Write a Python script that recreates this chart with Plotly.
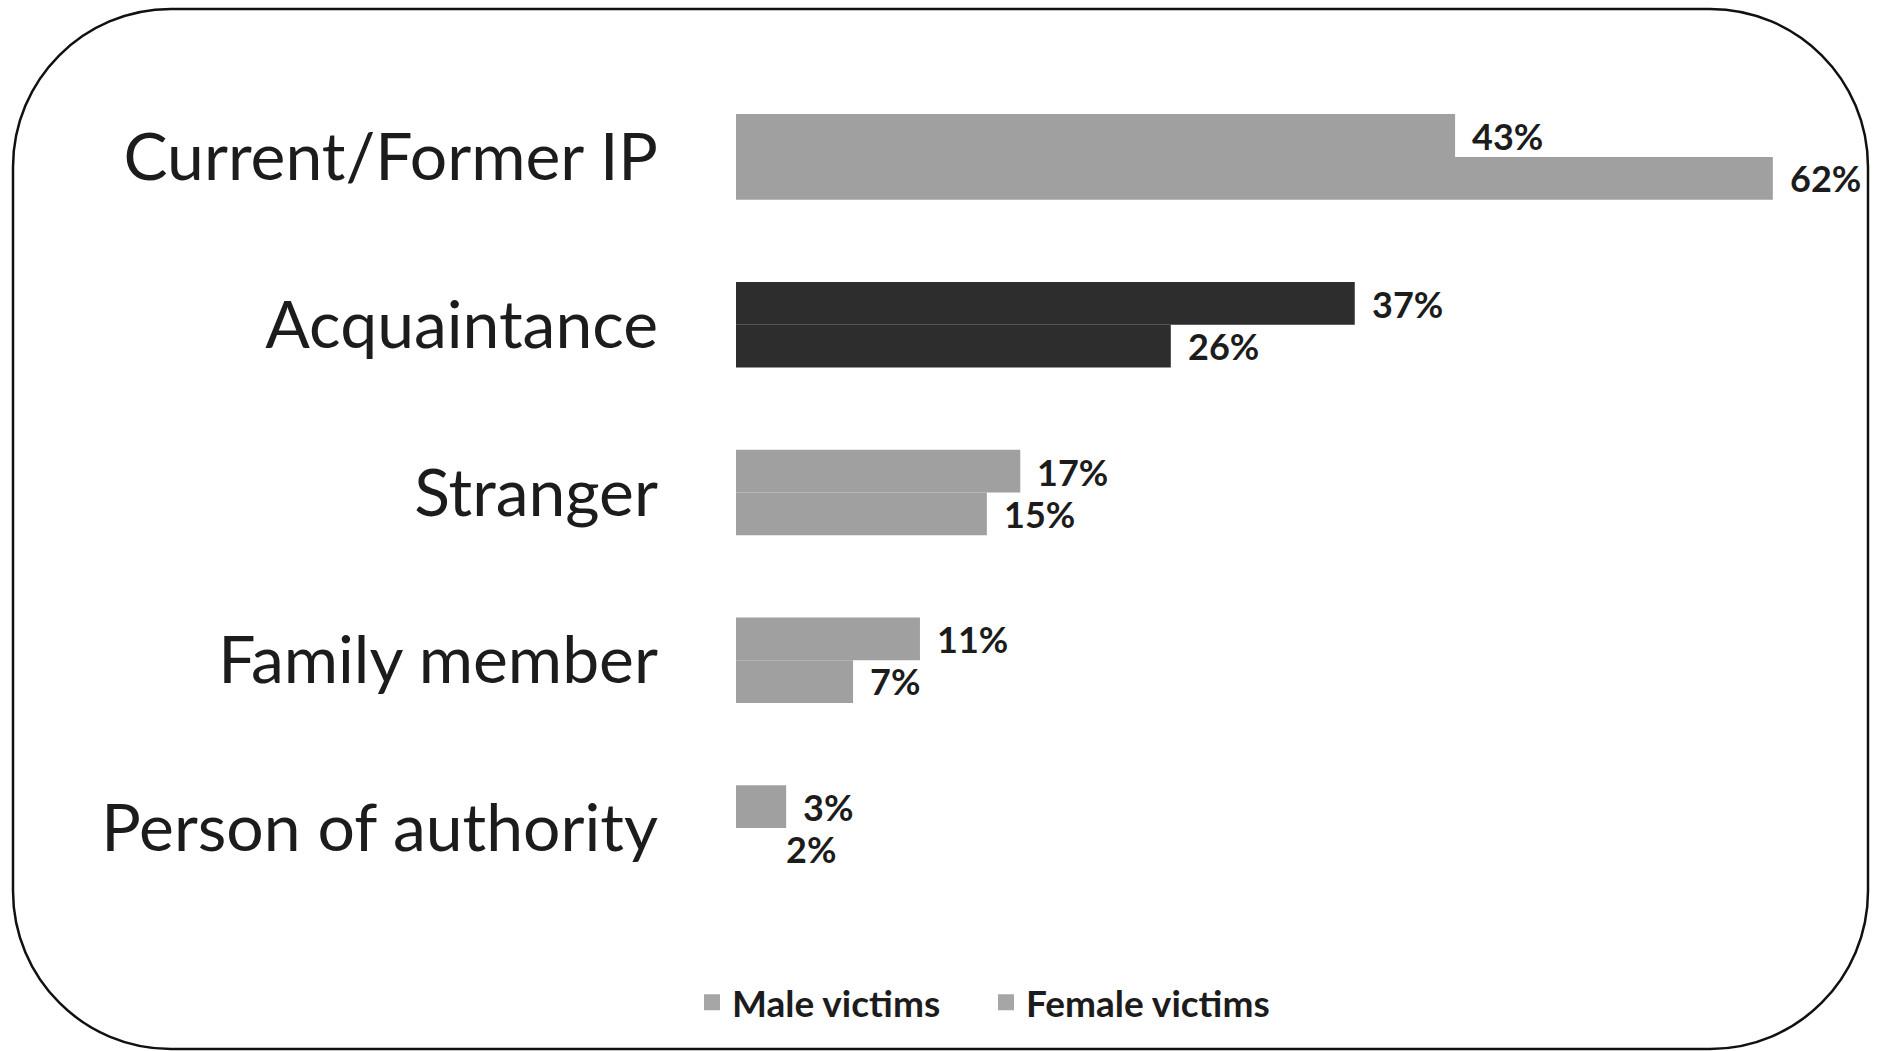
import plotly.graph_objects as go

# ---- data ----
categories = ["Current/Former IP", "Acquaintance", "Stranger", "Family member", "Person of authority"]
male_values = [43, 37, 17, 11, 3]
female_values = [62, 26, 15, 7, 2]
series_names = ["Male victims", "Female victims"]
highlight = "Acquaintance"

# ---- style ----
GRAY = "#a0a0a0"
DARK = "#2d2d2d"
LEG_GRAY = "#a6a6a6"
TXT = "#1c1c1c"
W, H = 1881, 1051
ML, MR, MT, MB = 736, 58, 73, 139
XMAX = 65

male_colors = [DARK if c == highlight else GRAY for c in categories]
female_colors = [DARK if c == highlight else GRAY for c in categories]
female_colors[-1] = "#ffffff"  # bar not visible in the source image

fig = go.Figure()
fig.add_trace(go.Bar(y=categories, x=male_values, orientation="h", name=series_names[0],
                     marker=dict(color=male_colors, line=dict(width=0)), showlegend=False,
                     hoverinfo="x+y"))
fig.add_trace(go.Bar(y=categories, x=female_values, orientation="h", name=series_names[1],
                     marker=dict(color=female_colors, line=dict(width=0)), showlegend=False,
                     hoverinfo="x+y"))
# legend proxies
for nm in series_names:
    fig.add_trace(go.Scatter(x=[None], y=[None], mode="markers", name=nm,
                             marker=dict(symbol="square", size=20, color=LEG_GRAY)))

annotations = []
for cat, m, f in zip(categories, male_values, female_values):
    for v, ys in ((m, 21), (f, -21)):
        annotations.append(dict(x=v, y=cat, xref="x", yref="y", text=f"{v}%",
                                showarrow=False, xanchor="left", yanchor="middle",
                                xshift=15, yshift=ys,
                                font=dict(family="Lato", size=36, color=TXT, weight="bold")))

# rounded border (pixel -> paper)
pw = W - ML - MR
ph = H - MT - MB
def px(x):
    return (x - ML) / pw
def py(y):
    return (H - MB - y) / ph

bl, br, bt, bb, r = 13, 1868, 9, 1049, 158
k = 0.5523 * r
path = (
    f"M {px(bl + r)},{py(bt)} L {px(br - r)},{py(bt)} "
    f"C {px(br - r + k)},{py(bt)} {px(br)},{py(bt + r - k)} {px(br)},{py(bt + r)} "
    f"L {px(br)},{py(bb - r)} "
    f"C {px(br)},{py(bb - r + k)} {px(br - r + k)},{py(bb)} {px(br - r)},{py(bb)} "
    f"L {px(bl + r)},{py(bb)} "
    f"C {px(bl + r - k)},{py(bb)} {px(bl)},{py(bb - r + k)} {px(bl)},{py(bb - r)} "
    f"L {px(bl)},{py(bt + r)} "
    f"C {px(bl)},{py(bt + r - k)} {px(bl + r - k)},{py(bt)} {px(bl + r)},{py(bt)} Z"
)

fig.update_layout(
    width=W, height=H,
    margin=dict(l=ML, r=MR, t=MT, b=MB, pad=0),
    paper_bgcolor="white", plot_bgcolor="white",
    barmode="group", bargap=0.49, bargroupgap=0,
    xaxis=dict(range=[0, XMAX], visible=False, fixedrange=True),
    yaxis=dict(categoryorder="array", categoryarray=categories, range=[4.5, -0.5],
               showgrid=False, zeroline=False, showline=False, ticks="",
               ticklabelstandoff=77, fixedrange=True,
               tickfont=dict(family="Lato", size=66, color=TXT)),
    legend=dict(orientation="h", x=px(692), xanchor="left", y=-0.108, yanchor="middle",
                font=dict(family="Lato", size=37, color=TXT, weight="bold"),
                itemsizing="trace", bgcolor="rgba(0,0,0,0)",
                entrywidth=249, entrywidthmode="pixels"),
    annotations=annotations,
    shapes=[dict(type="path", xref="paper", yref="paper", path=path,
                 line=dict(color="#111111", width=2.5), fillcolor="rgba(0,0,0,0)", layer="below")],
    showlegend=True,
)

fig.write_html("out.html", config={"displayModeBar": False},
               post_script="document.body.style.margin='0';document.body.style.overflow='hidden';")
